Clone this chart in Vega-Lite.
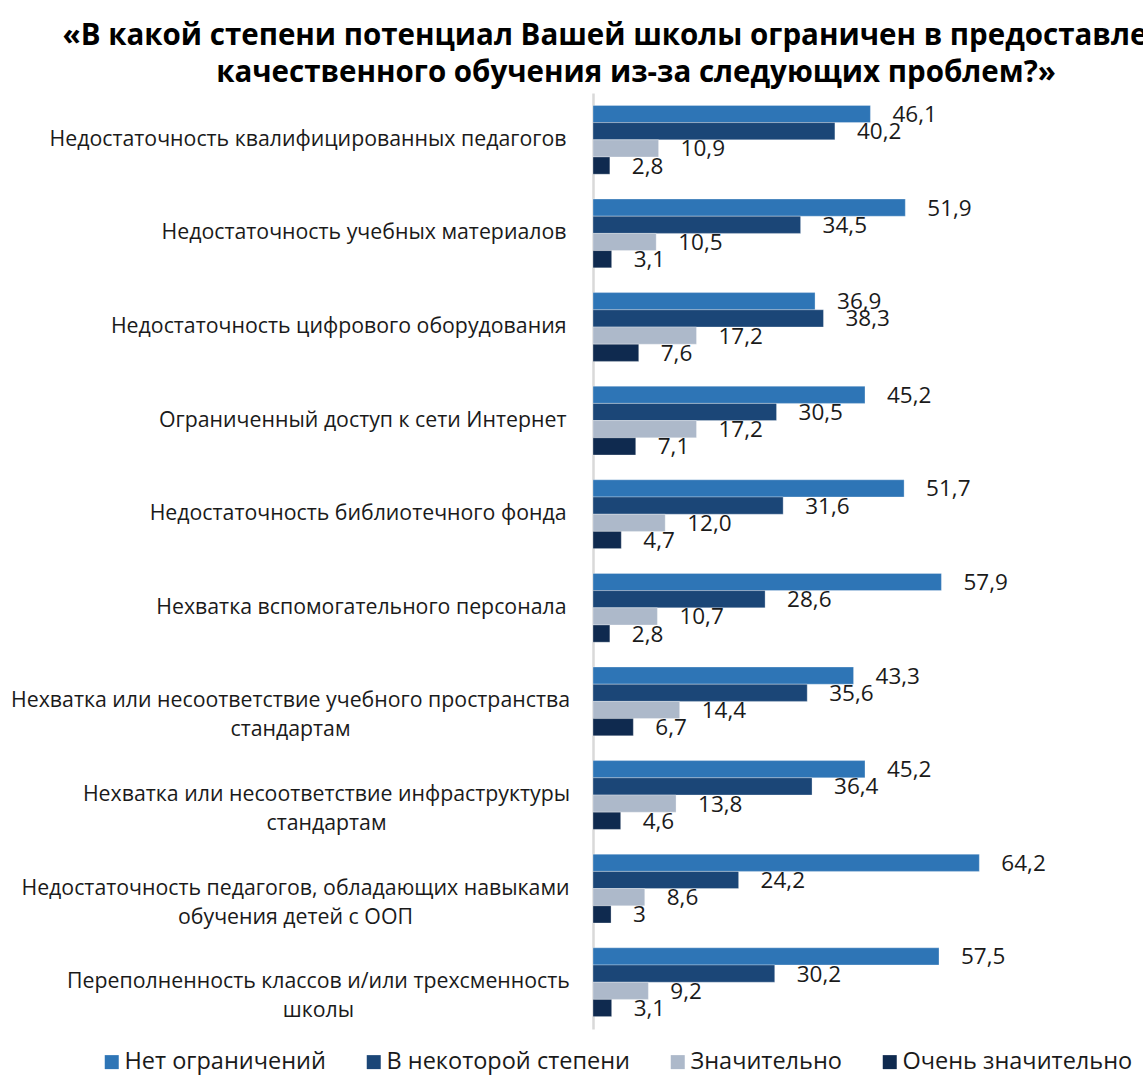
{
  "$schema": "https://vega.github.io/schema/vega-lite/v6.json",
  "autosize": {"type": "none"},
  "padding": {"left": 593, "top": 93, "right": 0, "bottom": 46},
  "width": 550,
  "height": 936,
  "background": "#ffffff",
  "title": {
    "text": ["«В какой степени потенциал Вашей школы ограничен в предоставлении", "качественного обучения из-за следующих проблем?»"],
    "font": "Open Sans",
    "fontSize": 29.5,
    "fontWeight": "bold",
    "color": "#000000",
    "anchor": "middle",
    "frame": "group",
    "dx": -232,
    "lineHeight": 37,
    "offset": 5
  },
  "data": {
    "values": [
      {"category": "Недостаточность квалифицированных педагогов", "series": "Нет ограничений", "value": 46.1, "label": "46,1"},
      {"category": "Недостаточность квалифицированных педагогов", "series": "В некоторой степени", "value": 40.2, "label": "40,2"},
      {"category": "Недостаточность квалифицированных педагогов", "series": "Значительно", "value": 10.9, "label": "10,9"},
      {"category": "Недостаточность квалифицированных педагогов", "series": "Очень значительно", "value": 2.8, "label": "2,8"},
      {"category": "Недостаточность учебных материалов", "series": "Нет ограничений", "value": 51.9, "label": "51,9"},
      {"category": "Недостаточность учебных материалов", "series": "В некоторой степени", "value": 34.5, "label": "34,5"},
      {"category": "Недостаточность учебных материалов", "series": "Значительно", "value": 10.5, "label": "10,5"},
      {"category": "Недостаточность учебных материалов", "series": "Очень значительно", "value": 3.1, "label": "3,1"},
      {"category": "Недостаточность цифрового оборудования", "series": "Нет ограничений", "value": 36.9, "label": "36,9"},
      {"category": "Недостаточность цифрового оборудования", "series": "В некоторой степени", "value": 38.3, "label": "38,3"},
      {"category": "Недостаточность цифрового оборудования", "series": "Значительно", "value": 17.2, "label": "17,2"},
      {"category": "Недостаточность цифрового оборудования", "series": "Очень значительно", "value": 7.6, "label": "7,6"},
      {"category": "Ограниченный доступ к сети Интернет", "series": "Нет ограничений", "value": 45.2, "label": "45,2"},
      {"category": "Ограниченный доступ к сети Интернет", "series": "В некоторой степени", "value": 30.5, "label": "30,5"},
      {"category": "Ограниченный доступ к сети Интернет", "series": "Значительно", "value": 17.2, "label": "17,2"},
      {"category": "Ограниченный доступ к сети Интернет", "series": "Очень значительно", "value": 7.1, "label": "7,1"},
      {"category": "Недостаточность библиотечного фонда", "series": "Нет ограничений", "value": 51.7, "label": "51,7"},
      {"category": "Недостаточность библиотечного фонда", "series": "В некоторой степени", "value": 31.6, "label": "31,6"},
      {"category": "Недостаточность библиотечного фонда", "series": "Значительно", "value": 12.0, "label": "12,0"},
      {"category": "Недостаточность библиотечного фонда", "series": "Очень значительно", "value": 4.7, "label": "4,7"},
      {"category": "Нехватка вспомогательного персонала", "series": "Нет ограничений", "value": 57.9, "label": "57,9"},
      {"category": "Нехватка вспомогательного персонала", "series": "В некоторой степени", "value": 28.6, "label": "28,6"},
      {"category": "Нехватка вспомогательного персонала", "series": "Значительно", "value": 10.7, "label": "10,7"},
      {"category": "Нехватка вспомогательного персонала", "series": "Очень значительно", "value": 2.8, "label": "2,8"},
      {"category": "Нехватка или несоответствие учебного пространства\nстандартам", "series": "Нет ограничений", "value": 43.3, "label": "43,3"},
      {"category": "Нехватка или несоответствие учебного пространства\nстандартам", "series": "В некоторой степени", "value": 35.6, "label": "35,6"},
      {"category": "Нехватка или несоответствие учебного пространства\nстандартам", "series": "Значительно", "value": 14.4, "label": "14,4"},
      {"category": "Нехватка или несоответствие учебного пространства\nстандартам", "series": "Очень значительно", "value": 6.7, "label": "6,7"},
      {"category": "Нехватка или несоответствие инфраструктуры\nстандартам", "series": "Нет ограничений", "value": 45.2, "label": "45,2"},
      {"category": "Нехватка или несоответствие инфраструктуры\nстандартам", "series": "В некоторой степени", "value": 36.4, "label": "36,4"},
      {"category": "Нехватка или несоответствие инфраструктуры\nстандартам", "series": "Значительно", "value": 13.8, "label": "13,8"},
      {"category": "Нехватка или несоответствие инфраструктуры\nстандартам", "series": "Очень значительно", "value": 4.6, "label": "4,6"},
      {"category": "Недостаточность педагогов, обладающих навыками\nобучения детей с ООП", "series": "Нет ограничений", "value": 64.2, "label": "64,2"},
      {"category": "Недостаточность педагогов, обладающих навыками\nобучения детей с ООП", "series": "В некоторой степени", "value": 24.2, "label": "24,2"},
      {"category": "Недостаточность педагогов, обладающих навыками\nобучения детей с ООП", "series": "Значительно", "value": 8.6, "label": "8,6"},
      {"category": "Недостаточность педагогов, обладающих навыками\nобучения детей с ООП", "series": "Очень значительно", "value": 3, "label": "3"},
      {"category": "Переполненность классов и/или трехсменность\nшколы", "series": "Нет ограничений", "value": 57.5, "label": "57,5"},
      {"category": "Переполненность классов и/или трехсменность\nшколы", "series": "В некоторой степени", "value": 30.2, "label": "30,2"},
      {"category": "Переполненность классов и/или трехсменность\nшколы", "series": "Значительно", "value": 9.2, "label": "9,2"},
      {"category": "Переполненность классов и/или трехсменность\nшколы", "series": "Очень значительно", "value": 3.1, "label": "3,1"}
    ]
  },
  "encoding": {
    "y": {
      "field": "category",
      "type": "nominal",
      "sort": null,
      "scale": {"paddingInner": 0.265, "paddingOuter": 0.1325},
      "axis": {
        "title": null,
        "ticks": false,
        "grid": false,
        "domain": true,
        "domainColor": "#D9D9D9",
        "domainWidth": 2.5,
        "labelFont": "Open Sans",
        "labelFontSize": 21.3,
        "labelColor": "#1a1a1a",
        "labelLimit": 0,
        "labelLineHeight": 29,
        "labelExpr": "split(datum.value, '\\n')",
        "labelAlign": {"condition": {"test": "indexof(datum.value, '\\n') >= 0", "value": "center"}, "value": "right"},
        "labelPadding": {
          "condition": [
            {"test": "indexof(datum.value, 'учебного пространства') >= 0", "value": 303},
            {"test": "indexof(datum.value, 'инфраструктуры') >= 0", "value": 267},
            {"test": "indexof(datum.value, 'ООП') >= 0", "value": 298},
            {"test": "indexof(datum.value, 'трехсменность') >= 0", "value": 275}
          ],
          "value": 27
        }
      }
    },
    "yOffset": {
      "field": "series",
      "type": "nominal",
      "sort": ["Нет ограничений", "В некоторой степени", "Значительно", "Очень значительно"],
      "scale": {"paddingInner": 0, "paddingOuter": 0}
    },
    "x": {
      "field": "value",
      "type": "quantitative",
      "scale": {"domain": [0, 91.4], "nice": false, "zero": true},
      "axis": null
    }
  },
  "layer": [
    {
      "mark": {"type": "bar", "stroke": "#ffffff", "strokeWidth": 0.5, "strokeOpacity": 0.6},
      "encoding": {
        "color": {
          "field": "series",
          "type": "nominal",
          "sort": ["Нет ограничений", "В некоторой степени", "Значительно", "Очень значительно"],
          "scale": {
            "domain": ["Нет ограничений", "В некоторой степени", "Значительно", "Очень значительно"],
            "range": ["#2E75B6", "#1B4677", "#ADB9CA", "#0F2A4F"]
          },
          "legend": {
            "title": null,
            "orient": "none",
            "direction": "horizontal",
            "legendX": -493,
            "legendY": 957,
            "symbolType": "square",
            "symbolSize": 196,
            "symbolStrokeWidth": 0,
            "labelFont": "Open Sans",
            "labelFontSize": 23.5,
            "labelColor": "#1a1a1a",
            "labelOffset": 1,
            "labelLimit": 0,
            "columnPadding": 36
          }
        }
      }
    },
    {
      "mark": {"type": "text", "align": "left", "baseline": "middle", "dx": 22, "dy": 1, "font": "Open Sans", "fontSize": 22.5, "color": "#1a1a1a"},
      "encoding": {
        "text": {"field": "label", "type": "nominal"}
      }
    }
  ],
  "config": {
    "view": {"stroke": null}
  }
}
